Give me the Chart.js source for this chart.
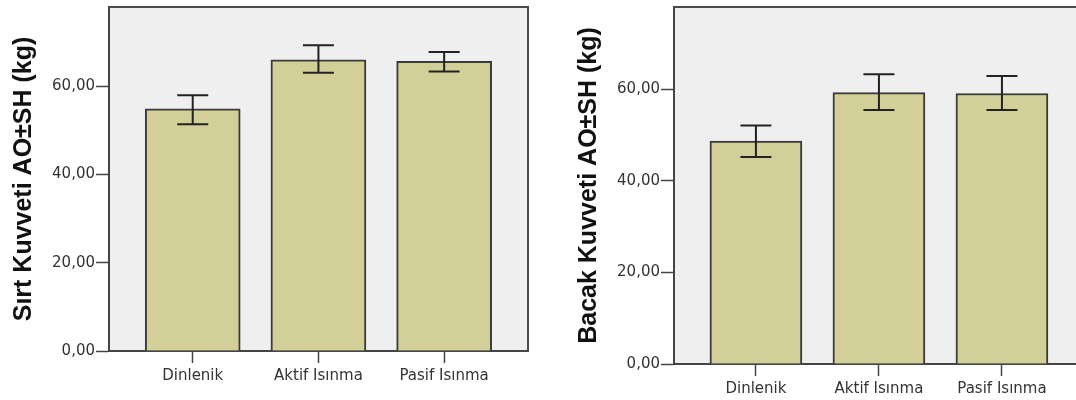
<!DOCTYPE html>
<html>
<head>
<meta charset="utf-8">
<script src="https://cdn.jsdelivr.net/npm/chart.js@4.4.1/dist/chart.umd.min.js"></script>
<style>
    html, body { margin: 0; padding: 0; background: #fff; overflow: hidden; }
    #wrap { position: relative; width: 1076px; height: 400px; overflow: hidden; }
    .box { position: absolute; top: 0; }
    #leftBox { left: 0; width: 540px; height: 400px; }
    #rightBox { left: 540px; width: 560px; height: 400px; }
</style>
</head>
<body>
<div id="wrap">
    <div class="box" id="leftBox"><canvas id="sirtChart" width="540" height="400"></canvas></div>
    <div class="box" id="rightBox"><canvas id="bacakChart" width="560" height="400"></canvas></div>
</div>
<script>
const groups = ['Dinlenik', 'Aktif Isınma', 'Pasif Isınma'];
const yTicks = [0, 20, 40, 60];

// Sırt kuvveti (mean, lower / upper end of the error bar)
const sirtMeans = [54.9, 66.0, 65.7];
const sirtLow = [51.4, 63.1, 63.4];
const sirtHigh = [58.0, 69.3, 67.8];

// Bacak kuvveti
const bacakMeans = [48.7, 59.3, 59.1];
const bacakLow = [45.2, 55.5, 55.5];
const bacakHigh = [52.1, 63.3, 62.9];

const tickFont = { family: 'DejaVu Sans', size: 15 };
const titleFont = { family: 'Liberation Sans', size: 25, weight: 'bold' };

// grey plot background + top/right frame lines
const framePlugin = {
    id: 'frame',
    beforeDraw(chart) {
        const { ctx, chartArea: a } = chart;
        ctx.save();
        ctx.fillStyle = '#efefef';
        ctx.fillRect(a.left, a.top, a.right - a.left, a.bottom - a.top);
        ctx.restore();
    },
    beforeDatasetsDraw(chart) {
        const { ctx, chartArea: a } = chart;
        ctx.save();
        ctx.strokeStyle = '#4a4a4a';
        ctx.lineWidth = 2;
        ctx.beginPath();
        ctx.moveTo(a.left, a.top);
        ctx.lineTo(a.right, a.top);
        ctx.lineTo(a.right, a.bottom);
        ctx.stroke();
        ctx.restore();
    }
};

const errorBarPlugin = {
    id: 'errorBars',
    afterDatasetsDraw(chart, args, opts) {
        const { ctx, scales: { x, y } } = chart;
        ctx.save();
        ctx.strokeStyle = '#222';
        ctx.lineWidth = 2;
        opts.low.forEach((lo, i) => {
            const px = x.getPixelForValue(i + 1);
            const yLo = y.getPixelForValue(lo);
            const yHi = y.getPixelForValue(opts.high[i]);
            ctx.beginPath();
            ctx.moveTo(px, yLo); ctx.lineTo(px, yHi);
            ctx.moveTo(px - 15.5, yLo); ctx.lineTo(px + 15.5, yLo);
            ctx.moveTo(px - 15.5, yHi); ctx.lineTo(px + 15.5, yHi);
            ctx.stroke();
        });
        ctx.restore();
    }
};

function makeChart(canvasId, cfg) {
    const ctx = document.getElementById(canvasId).getContext('2d');
    return new Chart(ctx, {
        type: 'bar',
        data: {
            datasets: [{
                data: cfg.means.map((v, i) => ({ x: i + 1, y: v })),
                backgroundColor: '#d3cf98',
                borderColor: '#3a3a3a',
                borderWidth: 2,
                barThickness: cfg.barWidth
            }]
        },
        plugins: [framePlugin, errorBarPlugin],
        options: {
            responsive: false,
            animation: false,
            layout: { padding: cfg.padding },
            plugins: {
                legend: { display: false },
                tooltip: { enabled: false },
                errorBars: { low: cfg.low, high: cfg.high }
            },
            scales: {
                x: {
                    type: 'linear',
                    offset: false,
                    min: 0.334,
                    max: 3.667,
                    afterBuildTicks: s => { s.ticks = groups.map((g, i) => ({ value: i + 1 })); },
                    afterFit: s => {
                        s.height = cfg.xHeight;
                        s.paddingLeft = 0;
                        s.paddingRight = 0;
                    },
                    ticks: {
                        callback: v => groups[v - 1],
                        font: tickFont,
                        color: '#333',
                        padding: 4,
                        maxRotation: 0,
                        autoSkip: false
                    },
                    grid: { offset: false, drawOnChartArea: false, drawTicks: true, tickLength: 12, color: '#444', tickWidth: 1.5 },
                    border: { color: '#444', width: 2 }
                },
                y: {
                    min: 0,
                    max: 78,
                    afterBuildTicks: s => { s.ticks = yTicks.map(v => ({ value: v })); },
                    afterFit: s => {
                        s.width = cfg.yWidth;
                        s.paddingTop = 0;
                        s.paddingBottom = 0;
                    },
                    ticks: {
                        callback: v => v.toFixed(2).replace('.', ','),
                        font: tickFont,
                        color: '#333',
                        padding: 1
                    },
                    grid: { drawOnChartArea: false, drawTicks: true, tickLength: 13, color: '#444', tickWidth: 1.5 },
                    border: { color: '#444', width: 2 },
                    title: {
                        display: true,
                        text: cfg.title,
                        font: titleFont,
                        color: '#111',
                        padding: { top: cfg.titlePad, bottom: 0 }
                    }
                }
            }
        }
    });
}

makeChart('sirtChart', {
    means: sirtMeans, low: sirtLow, high: sirtHigh,
    title: 'Sırt Kuvveti AO±SH (kg)',
    barWidth: 95,
    xHeight: 49, yWidth: 109, titlePad: 9,
    padding: { top: 7, right: 12, bottom: 0, left: 0 }
});

makeChart('bacakChart', {
    means: bacakMeans, low: bacakLow, high: bacakHigh,
    title: 'Bacak Kuvveti AO±SH (kg)',
    barWidth: 92,
    xHeight: 36, yWidth: 134, titlePad: 34,
    padding: { top: 7, right: 16, bottom: 0, left: 0 }
});
</script>
</body>
</html>
